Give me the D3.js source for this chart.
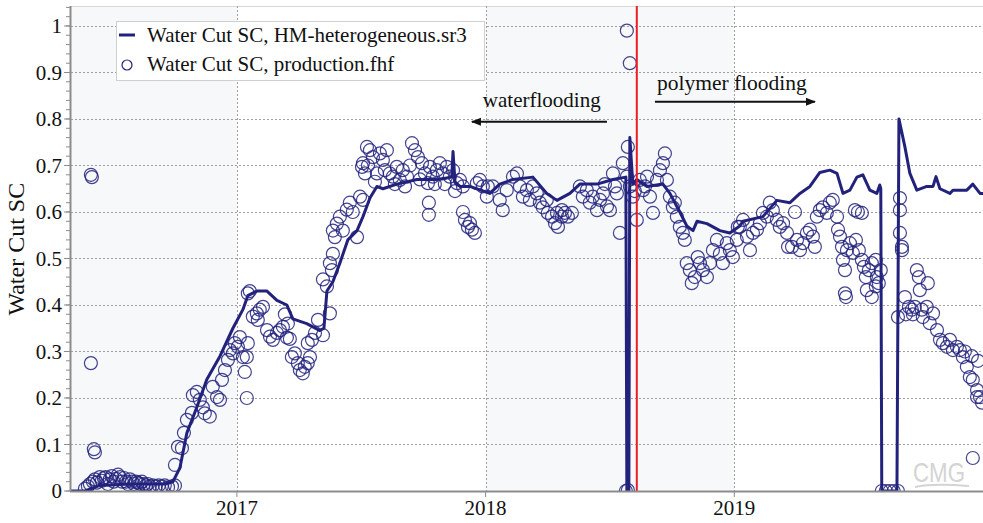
<!DOCTYPE html>
<html>
<head>
<meta charset="utf-8">
<script src="https://cdn.jsdelivr.net/npm/d3@7"></script>
<style>
  body { margin: 0; background: #fff; }
  svg { display: block; font-family: "Liberation Serif", "Times New Roman", serif; }
</style>
</head>
<body>
<svg id="chart" width="983" height="523"></svg>
<script>
// simulated water cut (HM-heterogeneous.sr3), time in decimal years
const simYears = [2016.333, 2016.389, 2016.449, 2016.570, 2016.710, 2016.743, 2016.771, 2016.799, 2016.839, 2016.879,
  2016.932, 2016.984, 2017.024, 2017.044, 2017.080, 2017.121, 2017.161, 2017.201, 2017.225, 2017.281,
  2017.334, 2017.350, 2017.362, 2017.386, 2017.414, 2017.446, 2017.483, 2017.507, 2017.535, 2017.563,
  2017.587, 2017.643, 2017.724, 2017.804, 2017.864, 2017.869, 2017.877, 2017.897, 2017.937, 2018.017,
  2018.057, 2018.110, 2018.190, 2018.246, 2018.287, 2018.339, 2018.379, 2018.448, 2018.512, 2018.564,
  2018.568, 2018.576, 2018.580, 2018.592, 2018.608, 2018.649, 2018.713, 2018.741, 2018.781, 2018.809,
  2018.834, 2018.850, 2018.890, 2018.942, 2018.982, 2019.022, 2019.035, 2019.115, 2019.171, 2019.224,
  2019.264, 2019.304, 2019.344, 2019.384, 2019.413, 2019.437, 2019.465, 2019.493, 2019.517, 2019.545,
  2019.573, 2019.585, 2019.589, 2019.593, 2019.654, 2019.662, 2019.686, 2019.706, 2019.734, 2019.774,
  2019.799, 2019.811, 2019.827, 2019.867, 2019.879, 2019.935, 2019.959, 2019.988, 2020.0];
const simValues = [0, 0, 0.012, 0.015, 0.015, 0.02, 0.05, 0.125, 0.18, 0.24,
  0.29, 0.35, 0.39, 0.42, 0.43, 0.43, 0.41, 0.40, 0.37, 0.36,
  0.345, 0.35, 0.43, 0.45, 0.49, 0.54, 0.56, 0.59, 0.63, 0.655,
  0.65, 0.66, 0.67, 0.67, 0.675, 0.73, 0.665, 0.655, 0.655, 0.64,
  0.66, 0.67, 0.675, 0.64, 0.625, 0.64, 0.66, 0.66, 0.67, 0.675,
  0, 0, 0.76, 0.66, 0.67, 0.655, 0.66, 0.64, 0.60, 0.57,
  0.56, 0.58, 0.575, 0.56, 0.555, 0.57, 0.58, 0.59, 0.625, 0.62,
  0.64, 0.655, 0.685, 0.69, 0.683, 0.64, 0.647, 0.675, 0.68, 0.647,
  0.64, 0.658, 0.65, 0, 0, 0.80, 0.74, 0.683, 0.647, 0.655,
  0.655, 0.676, 0.65, 0.64, 0.647, 0.647, 0.66, 0.64, 0.64];

// observed water cut (production.fhf)
const obsYears = [2016.413, 2016.417, 2016.413, 2016.425, 2016.429,
  2016.389, 2016.401, 2016.409, 2016.421, 2016.429, 2016.437, 2016.449, 2016.457, 2016.465, 2016.473,
  2016.481, 2016.489, 2016.497, 2016.505, 2016.514, 2016.522, 2016.530, 2016.538, 2016.546, 2016.554,
  2016.562, 2016.570, 2016.578, 2016.586, 2016.594, 2016.602, 2016.610, 2016.618, 2016.626, 2016.634,
  2016.642, 2016.650, 2016.662, 2016.674, 2016.686, 2016.698, 2016.710, 2016.723, 2016.739, 2016.751,
  2016.751, 2016.763, 2016.779, 2016.787, 2016.799, 2016.819, 2016.823, 2016.839, 2016.851, 2016.863,
  2016.871, 2016.891, 2016.903, 2016.920, 2016.932, 2016.940, 2016.952, 2016.964, 2016.972, 2016.984,
  2016.992, 2017.004, 2017.012, 2017.024, 2017.032, 2017.040, 2017.040, 2017.044, 2017.044, 2017.052,
  2017.064, 2017.080, 2017.084, 2017.092, 2017.105, 2017.121, 2017.133, 2017.145, 2017.161, 2017.173,
  2017.185, 2017.193, 2017.201, 2017.205, 2017.213, 2017.221, 2017.233, 2017.245, 2017.253, 2017.265,
  2017.273, 2017.285, 2017.294, 2017.285, 2017.302, 2017.314, 2017.326, 2017.346, 2017.346, 2017.362,
  2017.374, 2017.382, 2017.386, 2017.374, 2017.386, 2017.402, 2017.414, 2017.394, 2017.426, 2017.442,
  2017.454, 2017.466, 2017.483, 2017.495, 2017.507, 2017.503, 2017.507, 2017.523, 2017.535, 2017.515,
  2017.547, 2017.563, 2017.575, 2017.587, 2017.603, 2017.615, 2017.627, 2017.643, 2017.655, 2017.667,
  2017.684, 2017.704, 2017.716, 2017.728, 2017.744, 2017.756, 2017.768, 2017.772, 2017.772, 2017.776,
  2017.788, 2017.804, 2017.816, 2017.828, 2017.844, 2017.856, 2017.869, 2017.885, 2017.897, 2017.909,
  2017.909, 2017.917, 2017.929, 2017.945, 2017.957, 2017.937, 2017.965, 2017.977, 2017.989, 2018.005,
  2018.009, 2017.635, 2017.676, 2017.696, 2017.736, 2017.796, 2017.836, 2017.877, 2017.555, 2017.595,
  2017.527,
  2018.029, 2018.057, 2018.069, 2018.085, 2018.110, 2018.126, 2018.138, 2018.150, 2018.166, 2018.178,
  2018.190, 2018.206, 2018.218, 2018.230, 2018.246, 2018.250, 2018.267, 2018.279, 2018.291, 2018.307,
  2018.319, 2018.331, 2018.347, 2018.287, 2018.307, 2018.379, 2018.391, 2018.407, 2018.419, 2018.431,
  2018.448, 2018.460, 2018.472, 2018.488, 2018.500, 2018.512, 2018.528, 2018.540, 2018.552, 2018.568,
  2018.572, 2018.580, 2018.592, 2018.608, 2018.620, 2018.633, 2018.649, 2018.661, 2018.673, 2018.689,
  2018.701, 2018.713, 2018.721, 2018.729, 2018.741, 2018.753, 2018.769, 2018.781, 2018.793, 2018.801,
  2018.809, 2018.821, 2018.829, 2018.841, 2018.853, 2018.862, 2018.874, 2018.890, 2018.902, 2018.914,
  2018.930, 2018.942, 2018.954, 2018.970, 2018.982, 2018.994, 2019.010, 2019.014,
  2018.568, 2018.580, 2018.564, 2018.572, 2018.480, 2018.520, 2018.600, 2018.641, 2018.761,
  2019.022, 2019.035, 2019.051, 2019.063, 2019.075, 2019.091, 2019.103, 2019.115, 2019.131, 2019.143,
  2019.155, 2019.171, 2019.183, 2019.196, 2019.212, 2019.216, 2019.232, 2019.244, 2019.252, 2019.264,
  2019.276, 2019.292, 2019.304, 2019.316, 2019.324, 2019.332, 2019.344, 2019.356, 2019.372, 2019.384,
  2019.396, 2019.413, 2019.417, 2019.425, 2019.433, 2019.437, 2019.445, 2019.453, 2019.465, 2019.477,
  2019.485, 2019.497, 2019.513, 2019.489, 2019.501, 2019.513, 2019.521, 2019.529, 2019.533, 2019.541,
  2019.553, 2019.569, 2019.573, 2019.581, 2019.589, 2019.553, 2019.569, 2019.445, 2019.449,
  2019.593, 2019.609, 2019.625, 2019.641, 2019.658,
  2019.666, 2019.666, 2019.666, 2019.674, 2019.674, 2019.658, 2019.686, 2019.702, 2019.714, 2019.726,
  2019.734, 2019.742, 2019.746, 2019.754, 2019.758, 2019.774, 2019.778, 2019.786, 2019.799, 2019.815,
  2019.827, 2019.839, 2019.855, 2019.867, 2019.879, 2019.895, 2019.907, 2019.919, 2019.935, 2019.947,
  2019.959, 2019.976, 2019.988, 2019.976, 2019.996, 2019.959, 2019.927, 2019.955, 2019.980, 2019.690,
  2019.718];
const obsValues = [0.68, 0.675, 0.275, 0.09, 0.083,
  0.005, 0.01, 0.015, 0.02, 0.025, 0.018, 0.03, 0.022, 0.028, 0.03,
  0.015, 0.025, 0.032, 0.02, 0.026, 0.035, 0.03, 0.02, 0.028, 0.02,
  0.015, 0.025, 0.02, 0.015, 0.02, 0.018, 0.015, 0.02, 0.015, 0.012,
  0.015, 0.01, 0.012, 0.01, 0.012, 0.01, 0.012, 0.008, 0.01, 0.012,
  0.056, 0.095, 0.092, 0.125, 0.153, 0.168, 0.206, 0.213, 0.196, 0.18,
  0.167, 0.16, 0.224, 0.202, 0.196, 0.239, 0.26, 0.282, 0.303, 0.296,
  0.318, 0.31, 0.331, 0.288, 0.256, 0.2, 0.288, 0.318, 0.425, 0.43,
  0.375, 0.382, 0.368, 0.39, 0.396, 0.346, 0.332, 0.325, 0.34, 0.346,
  0.353, 0.38, 0.33, 0.36, 0.327, 0.288, 0.296, 0.275, 0.26, 0.253,
  0.267, 0.275, 0.288, 0.318, 0.325, 0.34, 0.368, 0.335, 0.455, 0.44,
  0.49, 0.475, 0.51, 0.382, 0.56, 0.575, 0.59, 0.546, 0.56, 0.605,
  0.62, 0.6, 0.546, 0.633, 0.626, 0.697, 0.705, 0.74, 0.733, 0.683,
  0.718, 0.683, 0.726, 0.712, 0.733, 0.683, 0.676, 0.697, 0.669, 0.69,
  0.676, 0.748, 0.733, 0.718, 0.705, 0.683, 0.662, 0.62, 0.594, 0.697,
  0.676, 0.69, 0.705, 0.683, 0.697, 0.676, 0.69, 0.662, 0.669, 0.655,
  0.6, 0.583, 0.568, 0.562, 0.555, 0.576, 0.662, 0.669, 0.655, 0.633,
  0.655, 0.66, 0.655, 0.7, 0.67, 0.66, 0.66, 0.645, 0.665, 0.69,
  0.7,
  0.655, 0.626, 0.604, 0.647, 0.676, 0.683, 0.655, 0.633, 0.647, 0.626,
  0.655, 0.64, 0.62, 0.61, 0.626, 0.598, 0.59, 0.576, 0.568, 0.59,
  0.598, 0.59, 0.598, 0.598, 0.604, 0.655, 0.633, 0.647, 0.62, 0.633,
  0.604, 0.626, 0.64, 0.612, 0.604, 0.683, 0.64, 0.555, 0.705, 0.676,
  0.74, 0.655, 0.633, 0.583, 0.669, 0.647, 0.676, 0.633, 0.598, 0.669,
  0.69, 0.705, 0.726, 0.669, 0.633, 0.61, 0.59, 0.568, 0.555, 0.54,
  0.49, 0.475, 0.447, 0.46, 0.503, 0.49, 0.475, 0.46, 0.49, 0.518,
  0.54, 0.51, 0.49, 0.533, 0.518, 0.503, 0.54, 0.568,
  0.99, 0.92, 0, 0.002, 0.66, 0.655, 0.645, 0.655, 0.62,
  0.568, 0.583, 0.547, 0.518, 0.555, 0.562, 0.576, 0.598, 0.59, 0.62,
  0.604, 0.583, 0.568, 0.576, 0.555, 0.525, 0.525, 0.6, 0.54, 0.518,
  0.533, 0.555, 0.562, 0.547, 0.525, 0.59, 0.604, 0.61, 0.598, 0.62,
  0.626, 0.59, 0.562, 0.547, 0.525, 0.497, 0.475, 0.518, 0.533, 0.512,
  0.604, 0.6, 0.598, 0.54, 0.518, 0.497, 0.482, 0.46, 0.432, 0.475,
  0.49, 0.497, 0.46, 0.447, 0.475, 0.417, 0.44, 0.425, 0.417,
  0, 0, 0, 0, 0,
  0.63, 0.604, 0.555, 0.525, 0.518, 0.374, 0.417, 0.396, 0.39, 0.396,
  0.475, 0.46, 0.432, 0.39, 0.374, 0.396, 0.447, 0.361, 0.382, 0.346,
  0.325, 0.318, 0.31, 0.325, 0.303, 0.31, 0.303, 0.288, 0.267, 0.245,
  0.239, 0.217, 0.202, 0.202, 0.19, 0.071, 0.3, 0.29, 0.28, 0.38,
  0.38];

const yearTicks = [2017, 2018, 2019];
const yTicks = [0, 0.1, 0.2, 0.3, 0.4, 0.5, 0.6, 0.7, 0.8, 0.9, 1];
const yTickLabels = ["0", "0.1", "0.2", "0.3", "0.4", "0.5", "0.6", "0.7", "0.8", "0.9", "1"];
const seriesNames = ["Water Cut SC, HM-heterogeneous.sr3", "Water Cut SC, production.fhf"];
const polymerStart = 2018.608;

const navy = "#22227c";
const margin = {top: 6, right: 0, bottom: 32, left: 71};
const svg = d3.select("#chart");
const width = +svg.attr("width") - margin.left - margin.right;
const height = +svg.attr("height") - margin.top - margin.bottom;

const x = d3.scaleLinear().domain([2016.333, 2020.0]).range([0, width]);
const y = d3.scaleLinear().domain([0, 1.043]).range([height, 0]);

const g = svg.append("g").attr("transform", "translate(" + margin.left + "," + margin.top + ")");

svg.append("defs").append("clipPath").attr("id", "plotclip")
  .append("rect").attr("width", width).attr("height", height + 2).attr("y", -1);

// alternating year bands
const bandEdges = [x.domain()[0]].concat(yearTicks, [x.domain()[1]]);
g.append("g").selectAll("rect")
  .data(d3.pairs(bandEdges))
  .enter().append("rect")
  .attr("x", d => x(d[0]))
  .attr("y", 0)
  .attr("width", d => x(d[1]) - x(d[0]))
  .attr("height", height)
  .attr("fill", (d, i) => i % 2 === 0 ? "#f6f8f9" : "#ffffff");

// top border
g.append("line").attr("x1", 0).attr("x2", width).attr("y1", 0.5).attr("y2", 0.5)
  .attr("stroke", "#d8d8d8");

// grid
g.append("g").selectAll("line")
  .data(yTicks.filter(d => d > 0))
  .enter().append("line")
  .attr("x1", 0).attr("x2", width)
  .attr("y1", d => Math.round(y(d)) + 0.5).attr("y2", d => Math.round(y(d)) + 0.5)
  .attr("stroke", "#a0a0a0").attr("stroke-width", 1).attr("stroke-dasharray", "2,2");

g.append("g").selectAll("line")
  .data(yearTicks)
  .enter().append("line")
  .attr("x1", d => Math.round(x(d)) + 0.5).attr("x2", d => Math.round(x(d)) + 0.5)
  .attr("y1", 0).attr("y2", height)
  .attr("stroke", "#a0a0a0").attr("stroke-width", 1).attr("stroke-dasharray", "2,2");

// CMG watermark
const wm = g.append("g").attr("transform", "translate(" + (width - 70) + "," + (height - 9) + ")");
wm.append("text").attr("x", 0).attr("y", 0)
  .attr("font-family", "Liberation Sans, Arial, sans-serif").attr("font-size", 28)
  .attr("textLength", 52).attr("lengthAdjust", "spacingAndGlyphs")
  .attr("fill", "#d4d4d4").text("CMG");
wm.append("path").attr("d", "M2,5 Q20,1 56,4").attr("fill", "none")
  .attr("stroke", "#d4d4d4").attr("stroke-width", 2);

// observed circles
const plot = g.append("g").attr("clip-path", "url(#plotclip)");
plot.append("g").selectAll("circle")
  .data(d3.zip(obsYears, obsValues))
  .enter().append("circle")
  .attr("cx", d => x(d[0]))
  .attr("cy", d => y(d[1]))
  .attr("r", 6.5)
  .attr("fill", "none")
  .attr("stroke", navy)
  .attr("stroke-opacity", 0.85)
  .attr("stroke-width", 1.2);

// simulated line
const line = d3.line().x(d => x(d[0])).y(d => y(d[1]));
plot.append("path")
  .datum(d3.zip(simYears, simValues))
  .attr("d", line)
  .attr("fill", "none")
  .attr("stroke", navy)
  .attr("stroke-width", 3)
  .attr("stroke-linejoin", "round");

// polymer start marker
g.append("line")
  .attr("x1", x(polymerStart)).attr("x2", x(polymerStart))
  .attr("y1", 0).attr("y2", height)
  .attr("stroke", "#ee1c24").attr("stroke-width", 2);

// axes
const yAxis = g.append("g");
yAxis.append("line").attr("x1", -0.5).attr("x2", -0.5).attr("y1", 0).attr("y2", height)
  .attr("stroke", "#8c8c8c").attr("stroke-width", 2);
yAxis.selectAll(".minor")
  .data(d3.range(0, 1.041, 0.02))
  .enter().append("line")
  .attr("x1", -5).attr("x2", -1)
  .attr("y1", d => y(d)).attr("y2", d => y(d))
  .attr("stroke", "#8c8c8c");
yAxis.selectAll(".major")
  .data(yTicks)
  .enter().append("line")
  .attr("x1", -7).attr("x2", -1)
  .attr("y1", d => y(d)).attr("y2", d => y(d))
  .attr("stroke", "#8c8c8c");
yAxis.selectAll("text")
  .data(yTicks)
  .enter().append("text")
  .attr("x", -9)
  .attr("y", d => y(d))
  .attr("dy", "0.35em")
  .attr("text-anchor", "end")
  .attr("font-size", 21)
  .attr("fill", "#111")
  .text((d, i) => yTickLabels[i]);

const xAxis = g.append("g").attr("transform", "translate(0," + height + ")");
xAxis.append("line").attr("x1", -1).attr("x2", width).attr("y1", 0.5).attr("y2", 0.5)
  .attr("stroke", "#8c8c8c").attr("stroke-width", 2);
xAxis.selectAll(".tick")
  .data(yearTicks)
  .enter().append("line")
  .attr("x1", d => x(d)).attr("x2", d => x(d))
  .attr("y1", 0).attr("y2", 6)
  .attr("stroke", "#8c8c8c");
xAxis.selectAll("text")
  .data(yearTicks)
  .enter().append("text")
  .attr("x", d => x(d))
  .attr("y", 24)
  .attr("text-anchor", "middle")
  .attr("font-size", 21)
  .attr("fill", "#111")
  .text(d => d);

svg.append("text")
  .attr("transform", "translate(24," + (margin.top + y(0.52)) + ") rotate(-90)")
  .attr("text-anchor", "middle")
  .attr("font-size", 24)
  .attr("fill", "#111")
  .text("Water Cut SC");

// annotations
const defs = svg.select("defs");
defs.append("marker").attr("id", "arrow")
  .attr("viewBox", "0 0 10 10").attr("refX", 9).attr("refY", 5)
  .attr("markerWidth", 5).attr("markerHeight", 5).attr("orient", "auto")
  .append("path").attr("d", "M0,1 L10,5 L0,9 Z").attr("fill", "#111");

g.append("line")
  .attr("x1", x(2018.488)).attr("x2", x(2017.945))
  .attr("y1", y(0.794)).attr("y2", y(0.794))
  .attr("stroke", "#111").attr("stroke-width", 2)
  .attr("marker-end", "url(#arrow)");
g.append("text")
  .attr("x", x(2017.989)).attr("y", y(0.826))
  .attr("font-size", 21).attr("fill", "#111")
  .text("waterflooding");

g.append("line")
  .attr("x1", x(2018.681)).attr("x2", x(2019.324))
  .attr("y1", y(0.837)).attr("y2", y(0.837))
  .attr("stroke", "#111").attr("stroke-width", 2)
  .attr("marker-end", "url(#arrow)");
g.append("text")
  .attr("x", x(2018.689)).attr("y", y(0.862))
  .attr("font-size", 21.5).attr("fill", "#111")
  .text("polymer flooding");

// legend
const legend = svg.append("g").attr("transform", "translate(116,21)");
legend.append("rect").attr("x", 0.5).attr("y", 0.5).attr("width", 368).attr("height", 59)
  .attr("fill", "#fff").attr("stroke", "#cfcfcf");
legend.append("line").attr("x1", 3).attr("x2", 19).attr("y1", 14).attr("y2", 14)
  .attr("stroke", navy).attr("stroke-width", 3);
legend.append("circle").attr("cx", 11).attr("cy", 44).attr("r", 5)
  .attr("fill", "none").attr("stroke", navy).attr("stroke-width", 1.2);
legend.selectAll("text")
  .data(seriesNames)
  .enter().append("text")
  .attr("x", 31)
  .attr("y", (d, i) => 21 + i * 29)
  .attr("font-size", 21)
  .attr("fill", "#111")
  .text(d => d);
</script>
</body>
</html>
